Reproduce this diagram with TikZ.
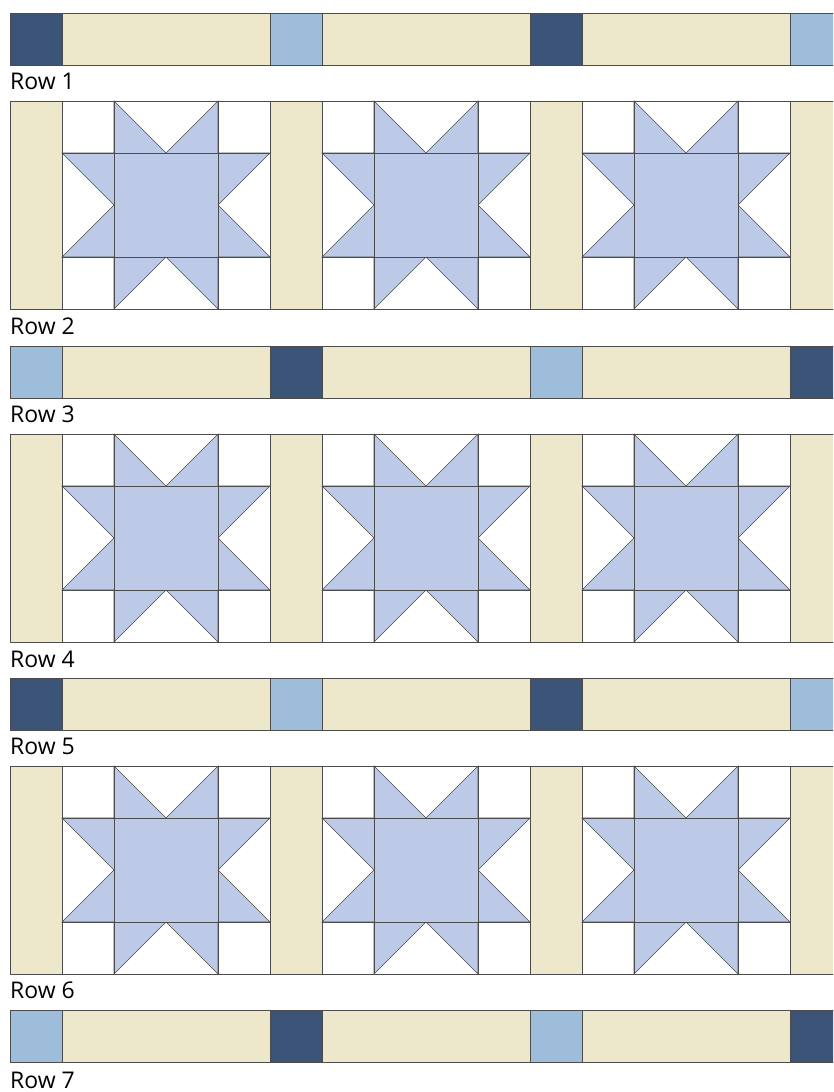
\documentclass[tikz,border=0pt]{standalone}
\usepackage{fontspec}
\setmainfont{Open Sans}
\definecolor{navy}{HTML}{3B5478}
\definecolor{sky}{HTML}{9EBDDA}
\definecolor{sand}{HTML}{EDE7CC}
\definecolor{starblue}{HTML}{BCCAE8}

\begin{document}
\begin{tikzpicture}[x=1pt,y=-1pt,line join=round,line cap=round]
\tikzset{every node/.style={font=\fontsize{23}{23}\selectfont,inner sep=0pt,anchor=base west},
  seam/.style={draw=black!70,line width=0.6pt},
  sawstar/.pic={
    \fill[white] (0,0) rectangle (208,208);
    \draw[seam,fill=starblue] (52,0)--(104,52)--(156,0)--(156,52)--(208,52)--(156,104)--(208,156)--(156,156)
      --(156,208)--(104,156)--(52,208)--(52,156)--(0,156)--(52,104)--(0,52)--(52,52)--cycle;
    \draw[seam] (52,0)--(52,208) (156,0)--(156,208) (0,52)--(208,52) (0,156)--(208,156);
    \draw[seam] (0,0) rectangle (208,208);
  }}
\useasboundingbox (0,0) rectangle (833,1092);
\begin{scope}
\clip (0,0) rectangle (833,1092);
\foreach \y/\cA/\cB in {13/navy/sky,346/sky/navy,678/navy/sky,1010/sky/navy}{
  \draw[seam,fill=sand] (10,\y) rectangle (850,\y+52);
  \foreach \x/\cc in {10/\cA,270/\cB,530/\cA,790/\cB}
    \draw[seam,fill=\cc] (\x,\y) rectangle ++(52,52);
}
\foreach \y in {101,434,766}{
  \foreach \x in {10,270,530,790}
    \draw[seam,fill=sand] (\x,\y) rectangle ++(52,208);
  \foreach \x in {62,322,582}
    \pic at (\x,\y) {sawstar};
}
\end{scope}
\node (row1) at (10,89) {Row 1};
\node (row2) at (10,334) {Row 2};
\node (row3) at (10,422) {Row 3};
\node (row4) at (10,667) {Row 4};
\node (row5) at (10,754) {Row 5};
\node (row6) at (10,998) {Row 6};
\node (row7) at (10,1088) {Row 7};
\end{tikzpicture}
\end{document}
